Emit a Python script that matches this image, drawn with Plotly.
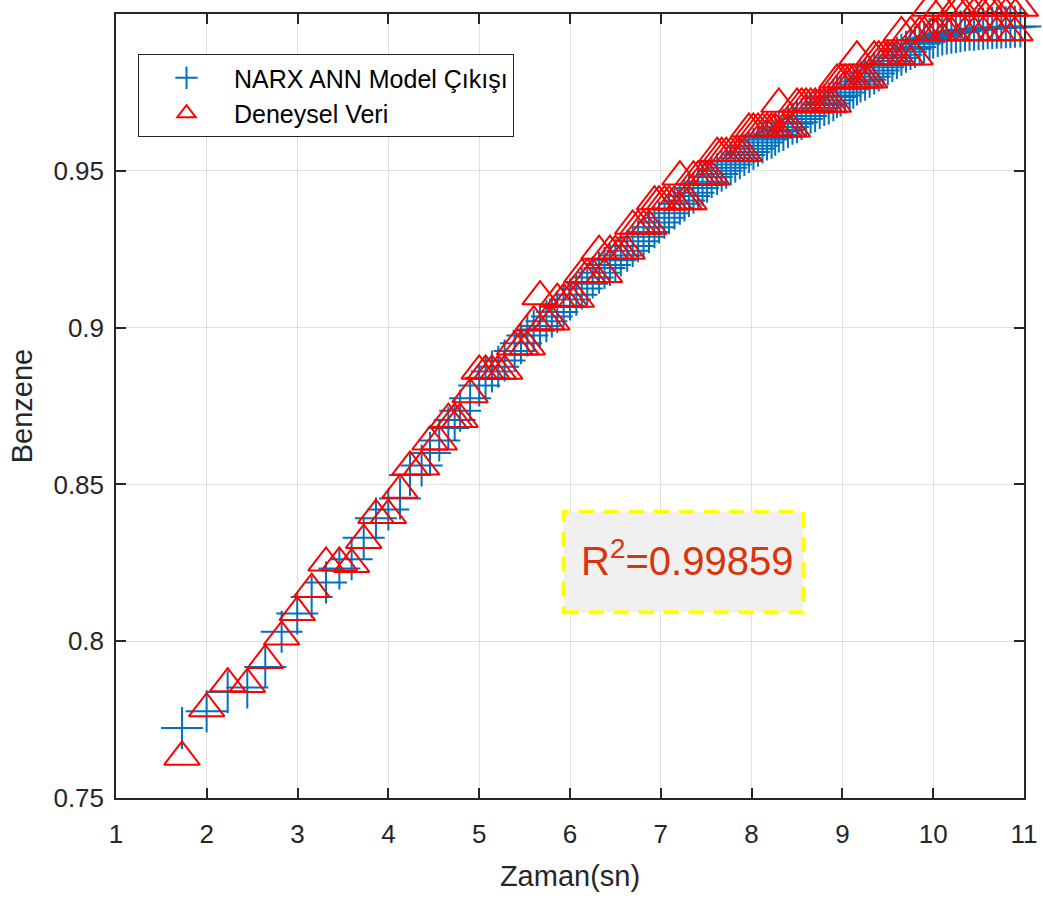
import plotly.graph_objects as go

# ---------------- data ----------------
time_s = [
    1.727, 1.998, 2.23, 2.446, 2.644, 2.824, 2.996, 3.155, 3.313, 3.46,
    3.595, 3.728, 3.863, 3.999, 4.128, 4.238, 4.366, 4.458, 4.56, 4.66,
    4.73, 4.79, 4.9, 5.0, 5.07, 5.14, 5.21, 5.28, 5.39, 5.46,
    5.53, 5.6, 5.67, 5.74, 5.8, 5.86, 5.93, 6.0, 6.07, 6.13,
    6.19, 6.25, 6.32, 6.38, 6.44, 6.5, 6.56, 6.63, 6.69, 6.75,
    6.81, 6.87, 6.93, 6.98, 7.04, 7.09, 7.15, 7.21, 7.26, 7.31,
    7.36, 7.41, 7.46, 7.51, 7.56, 7.62, 7.67, 7.72, 7.77, 7.82,
    7.87, 7.92, 7.97, 8.02, 8.07, 8.12, 8.17, 8.22, 8.26, 8.3,
    8.35, 8.4, 8.45, 8.5, 8.55, 8.6, 8.65, 8.7, 8.75, 8.8,
    8.85, 8.9, 8.94, 8.98, 9.03, 9.08, 9.12, 9.16, 9.2, 9.25,
    9.3, 9.35, 9.4, 9.45, 9.5, 9.55, 9.6, 9.65, 9.7, 9.75,
    9.8, 9.85, 9.9, 9.96, 10.0, 10.05, 10.1, 10.15, 10.2, 10.25,
    10.3, 10.35, 10.4, 10.45, 10.5, 10.55, 10.6, 10.65, 10.7, 10.75,
    10.8, 10.85, 10.9, 10.96,
]

model_out = [
    0.7723, 0.7777, 0.7838, 0.7852, 0.7918, 0.8030, 0.8088, 0.8141, 0.8187, 0.8232,
    0.8261, 0.8330, 0.8392, 0.8420, 0.8455, 0.8530, 0.8560, 0.8600, 0.8640, 0.8680,
    0.8705, 0.8735, 0.8775, 0.8815, 0.8840, 0.8860, 0.8875, 0.8895, 0.8925, 0.8950,
    0.8975, 0.8990, 0.9005, 0.9020, 0.9035, 0.9050, 0.9070, 0.9090, 0.9105, 0.9125,
    0.9140, 0.9160, 0.9175, 0.9190, 0.9200, 0.9215, 0.9230, 0.9245, 0.9260, 0.9275,
    0.9290, 0.9305, 0.9320, 0.9335, 0.9350, 0.9365, 0.9380, 0.9395, 0.9405, 0.9420,
    0.9430, 0.9445, 0.9455, 0.9465, 0.9480, 0.9490, 0.9500, 0.9510, 0.9520, 0.9530,
    0.9540, 0.9550, 0.9560, 0.9570, 0.9580, 0.9590, 0.9600, 0.9605, 0.9615, 0.9625,
    0.9630, 0.9640, 0.9650, 0.9655, 0.9665, 0.9675, 0.9685, 0.9690, 0.9700, 0.9710,
    0.9715, 0.9725, 0.9735, 0.9740, 0.9750, 0.9760, 0.9765, 0.9775, 0.9785, 0.9790,
    0.9800, 0.9810, 0.9820, 0.9830, 0.9840, 0.9850, 0.9860, 0.9870, 0.9880, 0.9888,
    0.9895, 0.9905, 0.9910, 0.9920, 0.9925, 0.9930, 0.9935, 0.9938, 0.9940, 0.9943,
    0.9945, 0.9948, 0.9950, 0.9950, 0.9952, 0.9953, 0.9955, 0.9955, 0.9956, 0.9957,
    0.9958, 0.9958, 0.9959, 0.9960,
]

experimental = [
    0.7631, 0.7785, 0.7865, 0.7863, 0.7939, 0.8014, 0.8092, 0.8166, 0.8250, 0.8250,
    0.8245, 0.8322, 0.8402, 0.8402, 0.8482, 0.8556, 0.8556, 0.8636, 0.8636, 0.8708,
    0.8708, 0.8708, 0.8787, 0.8862, 0.8862, 0.8862, 0.8862, 0.8862, 0.8939, 0.8939,
    0.8939, 0.9019, 0.9099, 0.9019, 0.9019, 0.9091, 0.9091, 0.9091, 0.9091, 0.9170,
    0.9170, 0.9170, 0.9244, 0.9170, 0.9244, 0.9244, 0.9244, 0.9244, 0.9324, 0.9324,
    0.9324, 0.9324, 0.9402, 0.9402, 0.9402, 0.9402, 0.9402, 0.9481, 0.9402, 0.9402,
    0.9481, 0.9481, 0.9481, 0.9481, 0.9481, 0.9556, 0.9556, 0.9556, 0.9556, 0.9556,
    0.9556, 0.9556, 0.9634, 0.9634, 0.9634, 0.9634, 0.9634, 0.9634, 0.9634, 0.9713,
    0.9634, 0.9634, 0.9634, 0.9713, 0.9713, 0.9713, 0.9713, 0.9713, 0.9713, 0.9713,
    0.9713, 0.9713, 0.9790, 0.9790, 0.9790, 0.9790, 0.9790, 0.9864, 0.9790, 0.9790,
    0.9790, 0.9864, 0.9864, 0.9864, 0.9864, 0.9864, 0.9864, 0.9941, 0.9864, 0.9941,
    0.9864, 0.9941, 0.9941, 1.0019, 0.9941, 0.9941, 1.0019, 0.9941, 0.9941, 1.0019,
    1.0019, 0.9941, 1.0019, 0.9941, 1.0019, 0.9941, 1.0019, 1.0019, 0.9941, 1.0019,
    0.9941, 1.0019, 0.9941, 1.0019,
]

x_ticks = [1, 2, 3, 4, 5, 6, 7, 8, 9, 10, 11]
y_ticks = [0.75, 0.8, 0.85, 0.9, 0.95, 1.0]
y_tick_text = ["0.75", "0.8", "0.85", "0.9", "0.95", "1"]
r2_text = "R<sup>2</sup>=0.99859"
r2_box_x = [5.93, 8.57]
r2_box_y = [0.8092, 0.8413]
r2_text_pos = [7.29, 0.8265]

# ---------------- styling ----------------
FONT = "Liberation Sans, Arial, Helvetica, sans-serif"
AX = "#262626"
GRID = "#dfdfdf"
W, H = 1043, 900
ML, MR, MT, MB = 116, 19, 0, 102
PLOT_H = H - MT - MB          # 798
AXIS_TOP_PX = 14              # top edge of the axes box
y_dom_top = (PLOT_H - AXIS_TOP_PX) / PLOT_H
y_span = y_ticks[-1] - y_ticks[0]

fig = go.Figure()

fig.add_trace(go.Scatter(
    x=time_s, y=model_out, mode="markers", name="NARX ANN Model Çıkışı",
    xaxis="x", yaxis="y", cliponaxis=False,
    marker=dict(symbol="cross-thin-open", size=30, color="#0072BD",
                line=dict(width=2, color="#0072BD")),
))
fig.add_trace(go.Scatter(
    x=time_s, y=experimental, mode="markers", name="Deneysel Veri",
    xaxis="x2", yaxis="y2", cliponaxis=False,
    marker=dict(symbol="triangle-up-open", size=31, color="#FF0000",
                line=dict(width=2, color="#FF0000")),
))

axis_common = dict(
    showline=True, linecolor=AX, linewidth=1.5, mirror="allticks",
    ticks="inside", ticklen=10, tickwidth=1.5, tickcolor=AX,
    showgrid=True, gridcolor=GRID, gridwidth=1, zeroline=False,
    tickfont=dict(family=FONT, size=26, color=AX),
)

fig.update_layout(
    width=W, height=H,
    margin=dict(l=ML, r=MR, t=MT, b=MB),
    paper_bgcolor="white", plot_bgcolor="rgba(0,0,0,0)",
    font=dict(family=FONT, color=AX),
    showlegend=True,
    xaxis=dict(
        range=[1, 11], tickvals=x_ticks, domain=[0, 1], anchor="y",
        title=dict(text="Zaman(sn)", font=dict(family=FONT, size=29, color=AX), standoff=18),
        ticklabelstandoff=12,
        **axis_common,
    ),
    yaxis=dict(
        range=[y_ticks[0], y_ticks[-1]], tickvals=y_ticks, ticktext=y_tick_text,
        domain=[0, y_dom_top], anchor="x",
        title=dict(text="Benzene", font=dict(family=FONT, size=29, color=AX), standoff=12),
        ticklabelstandoff=5,
        **axis_common,
    ),
    xaxis2=dict(range=[1, 11], domain=[0, 1], anchor="y2", visible=False,
                showgrid=False, zeroline=False),
    yaxis2=dict(range=[y_ticks[0], y_ticks[0] + y_span / y_dom_top], domain=[0, 1],
                anchor="x2", visible=False, showgrid=False, zeroline=False),
    legend=dict(
        x=(138 - ML) / (W - ML - MR), y=(PLOT_H - 54) / PLOT_H,
        xanchor="left", yanchor="top",
        bgcolor="white", bordercolor=AX, borderwidth=1,
        font=dict(family=FONT, size=25, color="black"),
        itemwidth=85, tracegroupgap=0,
    ),
    shapes=[dict(
        type="rect", xref="x", yref="y",
        x0=r2_box_x[0], x1=r2_box_x[1], y0=r2_box_y[0], y1=r2_box_y[1],
        fillcolor="#f0f0f0", line=dict(color="#ffff00", width=4, dash="15px,10px"),
        layer="above",
    )],
    annotations=[dict(
        x=r2_text_pos[0], y=r2_text_pos[1], xref="x", yref="y", text=r2_text,
        showarrow=False, xanchor="center", yanchor="middle",
        font=dict(family=FONT, size=40, color="#D9340B"),
    )],
)

fig.write_html("out.html", config={"displayModeBar": False},
               post_script="document.body.style.margin='0';")
